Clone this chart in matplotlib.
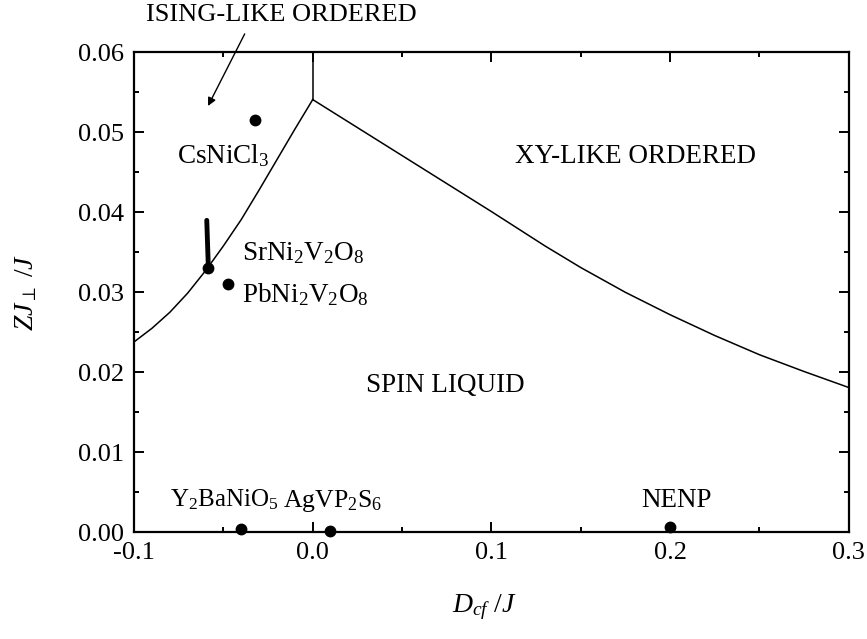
import matplotlib
matplotlib.use("Agg")
import matplotlib.pyplot as plt
import matplotlib.ticker as mticker

plt.rcParams["font.family"] = ["Liberation Serif", "DejaVu Serif"]
plt.rcParams["mathtext.fontset"] = "custom"
plt.rcParams["mathtext.rm"] = "Liberation Serif"
plt.rcParams["mathtext.it"] = "Liberation Serif:italic"
plt.rcParams["axes.unicode_minus"] = False

# ── 相境界 ──
ising_x = [-0.1, -0.09, -0.08, -0.07, -0.06, -0.05, -0.04, -0.03, -0.02, -0.01, 0.0]
ising_y = [0.0238, 0.0255, 0.0275, 0.0299, 0.0327, 0.0358, 0.0391, 0.0428, 0.0466, 0.0504, 0.0541]
xy_x = [0.0, 0.05, 0.10, 0.13, 0.15, 0.175, 0.20, 0.225, 0.25, 0.275, 0.30]
xy_y = [0.0541, 0.0471, 0.0401, 0.0358, 0.0331, 0.0300, 0.0272, 0.0246, 0.0222, 0.0201, 0.0181]
top_x = [0.0, 0.0]
top_y = [0.0541, 0.06]

# SrNi2V2O8 の太線
sr_x = [-0.0584, -0.0593]
sr_y = [0.0330, 0.0390]

# ── 物質の点 ──
mat_names = ["CsNiCl3", "SrNi2V2O8", "PbNi2V2O8", "Y2BaNiO5", "AgVP2S6", "NENP"]
mat_x = [-0.0323, -0.0584, -0.0472, -0.0403, 0.0097, 0.200]
mat_y = [0.0516, 0.0330, 0.0310, 0.0004, 0.0001, 0.0007]

# ── ラベル ──
labels = [
    (r"$\mathrm{CsNiCl_3}$", -0.0760, 0.0462, 19.5),
    (r"$\mathrm{SrNi_2V_2O_8}$", -0.0397, 0.0340, 19.5),
    (r"$\mathrm{PbNi_2V_2O_8}$", -0.0397, 0.0288, 19.5),
    (r"$\mathrm{Y_2BaNiO_5}$", -0.0798, 0.0032, 18),
    (r"$\mathrm{AgVP_2S_6}$", -0.0164, 0.0032, 18.5),
    ("NENP", 0.184, 0.0032, 19.5),
    ("XY-LIKE ORDERED", 0.1133, 0.0462, 19.5),
    ("SPIN LIQUID", 0.0297, 0.0176, 19.5),
]

fig = plt.figure(figsize=(8.67, 6.39), dpi=100)
ax = fig.add_axes([0.1546, 0.167, 0.8244, 0.751])

ax.plot(ising_x, ising_y, color="black", lw=1.1)
ax.plot(xy_x, xy_y, color="black", lw=1.1)
ax.plot(top_x, top_y, color="black", lw=1.1)
ax.plot(sr_x, sr_y, color="black", lw=3.5, solid_capstyle="round")
ax.plot(mat_x, mat_y, "o", color="black", ms=7.5, clip_on=False, zorder=5)

for text, x, y, fs in labels:
    ax.text(x, y, text, fontsize=fs, ha="left", va="baseline")

ax.annotate("ISING-LIKE ORDERED", xy=(-0.0586, 0.0533), xytext=(-0.0177, 0.0639),
            fontsize=19, ha="center", va="baseline", annotation_clip=False,
            arrowprops=dict(arrowstyle="-|>", color="black", lw=1.0,
                            shrinkA=4, shrinkB=0, mutation_scale=12,
                            relpos=(0.38, 0.0)))

ax.set_xlim(-0.1, 0.3)
ax.set_ylim(0.0, 0.06)
ax.xaxis.set_major_locator(mticker.MultipleLocator(0.1))
ax.xaxis.set_minor_locator(mticker.MultipleLocator(0.05))
ax.yaxis.set_major_locator(mticker.MultipleLocator(0.01))
ax.yaxis.set_minor_locator(mticker.MultipleLocator(0.005))
ax.xaxis.set_major_formatter(mticker.FormatStrFormatter("%.1f"))
ax.yaxis.set_major_formatter(mticker.FormatStrFormatter("%.2f"))

ax.tick_params(which="both", direction="in", top=True, right=True, width=1.4, labelsize=19)
ax.tick_params(which="major", length=7, pad=7)
ax.tick_params(which="minor", length=3.5)
for s in ax.spines.values():
    s.set_linewidth(1.6)

ax.set_xlabel(r"$D_{cf}\ /J$", fontsize=20)
ax.set_ylabel(r"$ZJ_{\perp}\ /J$", fontsize=20, labelpad=28)
ax.xaxis.set_label_coords(0.49, -0.125)

fig.savefig("out.png", dpi=100)
